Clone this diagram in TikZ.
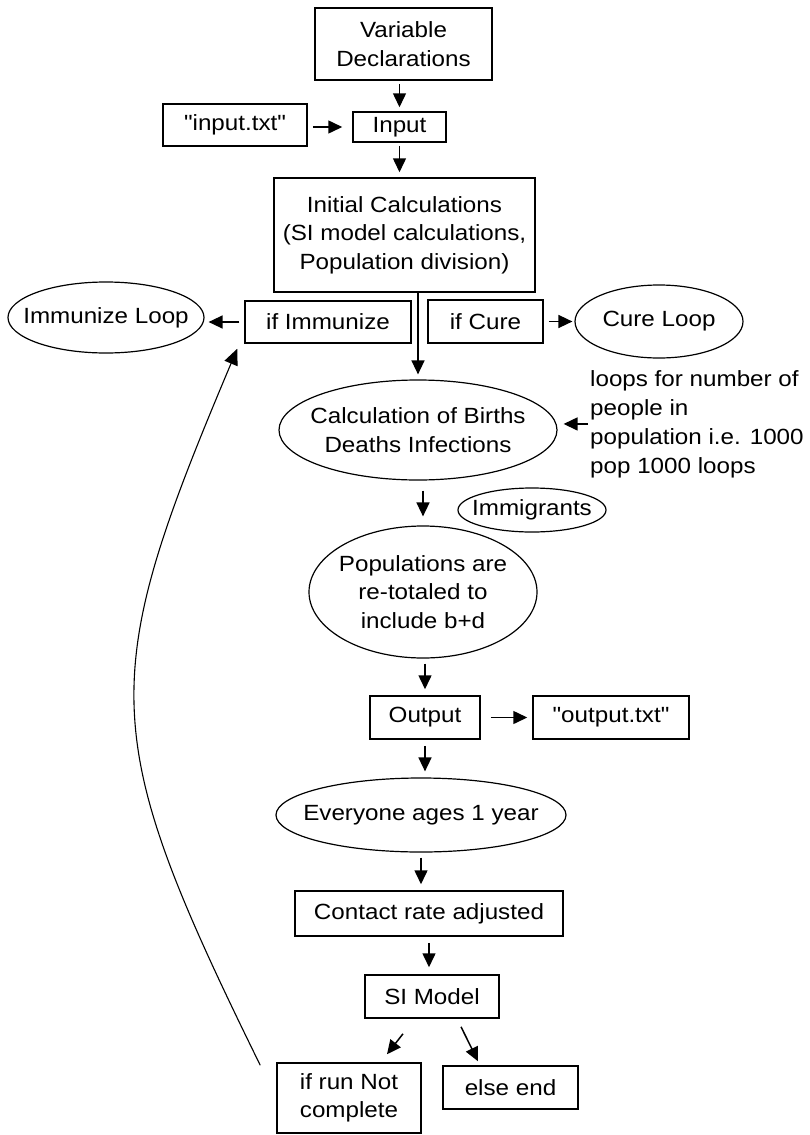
\documentclass[tikz,border=0pt]{standalone}
\usepackage{fontspec}
\setmainfont[FakeStretch=1.1, Ligatures=TeXOff]{Liberation Sans}
\usetikzlibrary{shapes.geometric,arrows.meta,calc}
\begin{document}
\begin{tikzpicture}[x=1pt,y=-1pt,
  every node/.style={font=\fontsize{22}{28.5}\selectfont},
  box/.style={draw, line width=1.5pt, inner sep=0pt, align=center},
  oval/.style={draw, ellipse, line width=1.2pt, inner sep=0pt},
  arr/.style={-{Triangle[length=14pt,width=13pt]}, line width=1.5pt},
  loopline/.style={-{Triangle[length=16pt,width=14pt]}, line width=1.1pt},
]
\path[fill=white] (0,0) rectangle (809,1135);

% boxes
\node[box, minimum width=177, minimum height=72] (var) at (403.5,44) {Variable\\Declarations};
\node[box, minimum width=144, minimum height=42] (inputtxt) at (235,125) {"input.txt"};
\node[box, minimum width=93, minimum height=30] (input) at (399.5,127) {Input};
\node[box, minimum width=261, minimum height=114] (init) at (404.5,235) {Initial Calculations\\(SI model calculations,\\Population division)};
\node[box, minimum width=166, minimum height=42] (ifimm) at (328,322) {if Immunize};
\node[box, minimum width=115, minimum height=43] (ifcure) at (485.5,321.5) {if Cure};
\node[box, minimum width=110, minimum height=43] (output) at (425,717.5) {Output};
\node[box, minimum width=156, minimum height=43] (outputtxt) at (611,717.5) {"output.txt"};
\node[box, minimum width=268, minimum height=45] (contact) at (429,913.5) {Contact rate adjusted};
\node[box, minimum width=134, minimum height=43] (simodel) at (432,996.5) {SI Model};
\node[box, minimum width=144, minimum height=70, align=left] (ifrun) at (349,1098) {if run Not\\complete};
\node[box, minimum width=135, minimum height=43] (elseend) at (510.5,1087.5) {else end};

% ovals
\node[oval, minimum width=196, minimum height=71, label={center:Immunize Loop}] (immloop) at (106,317.5) {};
\node[oval, minimum width=168, minimum height=73, label={center:Cure Loop}] (cureloop) at (659,321.5) {};
\node[oval, minimum width=278, minimum height=100, label={[align=center]center:{Calculation of Births\\Deaths Infections}}] (calc) at (418,430) {};
\node[oval, minimum width=148, minimum height=44, label={center:Immigrants}] (immig) at (532,510) {};
\node[oval, minimum width=228, minimum height=132, label={[align=center]center:{Populations are\\re-totaled to\\include b+d}}] (pop) at (423,592) {};
\node[oval, minimum width=290, minimum height=74, label={center:Everyone ages 1 year}] (every) at (421,815) {};

% note
\node[inner sep=0pt, anchor=north west, align=left, font=\fontsize{22}{29}\selectfont] (note) at (590,370) {loops for number of\\people in\\population i.e. 1000\\pop 1000 loops};

% connectors
\draw[arr, shorten <=3pt, shorten >=4pt] (input.north |- var.south) -- (input.north);
\draw[arr, shorten <=5pt, shorten >=10pt] (input.west -| inputtxt.east) -- (input.west);
\draw[arr, shorten <=3pt, shorten >=5pt] (input.south) -- (input.south |- init.north);
\draw[arr, shorten <=5pt, shorten >=4pt] (ifimm.west) -- (ifimm.west -| immloop.east);
\draw[arr, shorten <=5pt, shorten >=2pt] (ifcure.east) -- (cureloop.west);
\draw[arr, shorten >=5pt] (init.south -| calc.north) -- (calc.north);
\draw[arr, shorten <=2pt, shorten >=6pt] (note.west) -- (note.west -| calc.east);
\draw[arr, shorten <=10pt, shorten >=9pt] (calc.south -| pop.north) -- (pop.north);
\draw[arr, shorten <=5pt, shorten >=6pt] (pop.south -| output.north) -- (output.north);
\draw[arr, shorten <=10pt, shorten >=5pt] (output.east) -- (outputtxt.west);
\draw[arr, shorten <=6pt, shorten >=6pt] (output.south) -- (output.south |- every.north);
\draw[arr, shorten <=5pt, shorten >=6pt] (every.south) -- (every.south |- contact.north);
\draw[arr, shorten <=6pt, shorten >=7pt] (contact.south) -- (contact.south |- simodel.north);
\draw[arr] ($(simodel.south)+(-29,15)$) -- ($(ifrun.north)+(38,-8)$);
\draw[arr] ($(simodel.south)+(29,8)$) -- ($(elseend.north)+(-32.5,-4)$);
\draw[loopline] ($(ifrun.north west)+(-16,3)$) .. controls (97,733) and (97,681) .. ($(ifimm.south west)+(-7,5)$);
\end{tikzpicture}
\end{document}
